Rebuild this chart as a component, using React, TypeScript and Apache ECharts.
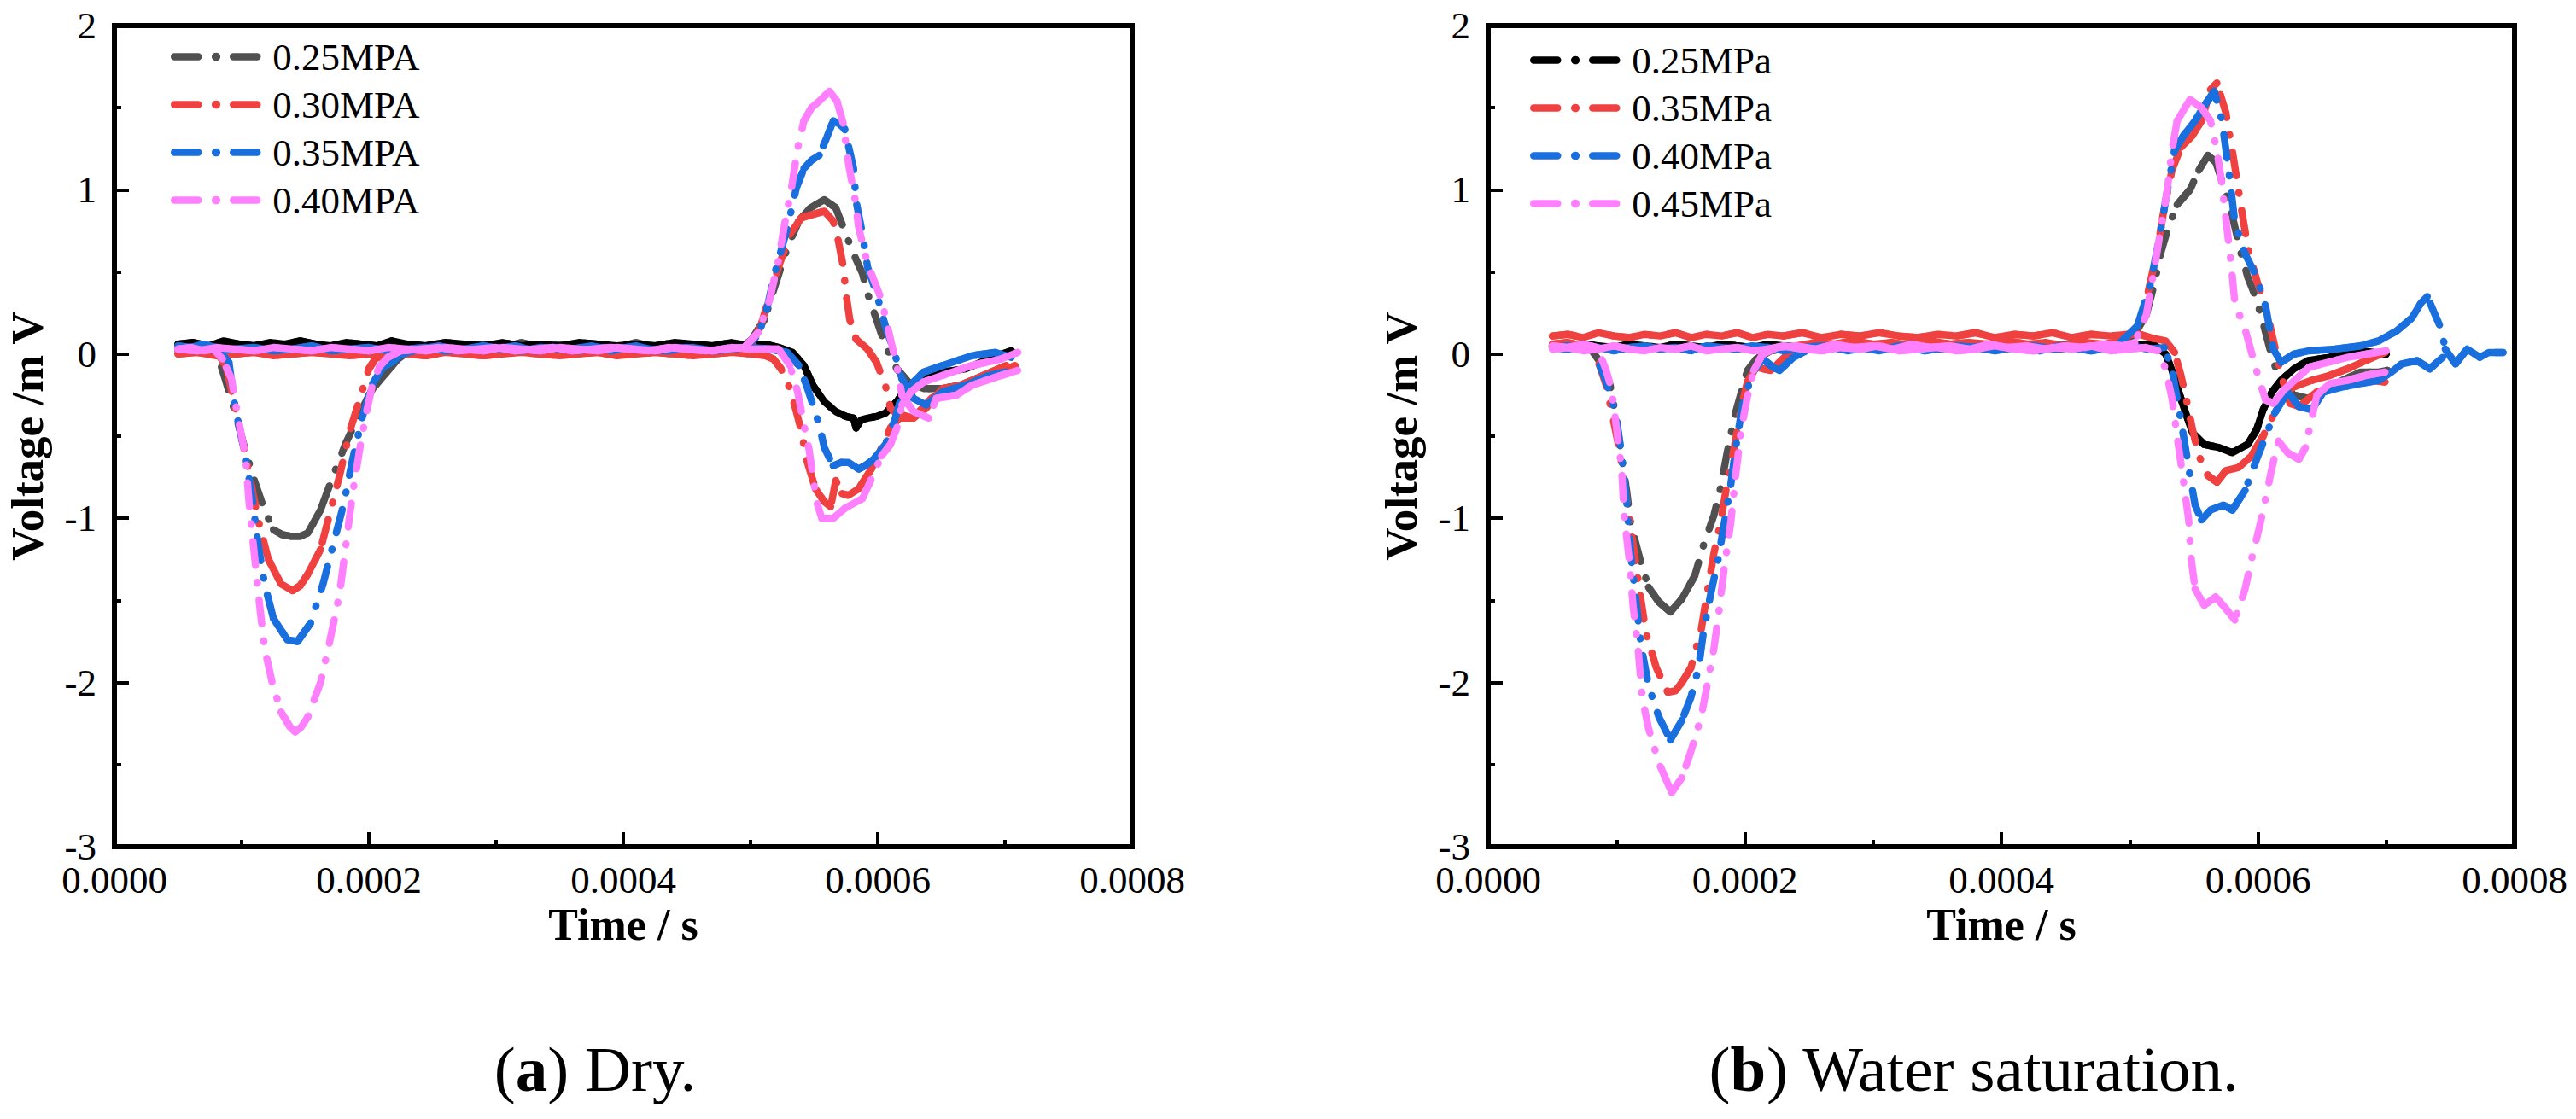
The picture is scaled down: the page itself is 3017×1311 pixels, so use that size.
import React from "react";
import * as echarts from "echarts";

// time in µs, voltage in mV
type Pt = [number, number];

const dryLabels = ["0.25MPA", "0.30MPA", "0.35MPA", "0.40MPA"];
const wetLabels = ["0.25MPa", "0.35MPa", "0.40MPa", "0.45MPa"];
const firstColors = ["#505050", "#F04141", "#1A6FDF", "#FF80FF"];
const secondColors = ["#000000", "#F04141", "#1A6FDF", "#FF80FF"];
const xTicks = [0, 0.0002, 0.0004, 0.0006, 0.0008];
const yTicks = [-3, -2, -1, 0, 1, 2];

// (a) Dry. — first channel: dip then positive lobe
const dry1_025: Pt[] = [[50,0.04],[58,0.06],[66,0.03],[74,0.05],[80,0.02],[87,-0.15],[95,-0.36],[103,-0.59],[110,-0.77],[118,-0.95],[125,-1.07],[132,-1.1],[139,-1.11],[146,-1.11],[152,-1.09],[162,-0.95],[172,-0.74],[182,-0.54],[193,-0.36],[203,-0.21],[213,-0.12],[223,-0.03],[232,0.02],[245,0.05],[260,0.07],[275,0.03],[290,0.06],[305,0.04],[320,0.07],[335,0.04],[350,0.06],[365,0.03],[380,0.06],[395,0.04],[410,0.07],[425,0.04],[440,0.06],[455,0.03],[470,0.05],[485,0.04],[495,0.05],[501,0.09],[511,0.21],[519,0.41],[529,0.65],[538,0.81],[547,0.89],[558,0.94],[567,0.89],[574,0.75],[581,0.61],[588,0.49],[592,0.37],[599,0.21],[606,0.05],[615,-0.09],[624,-0.17],[636,-0.21],[651,-0.21],[665,-0.19],[683,-0.13],[697,-0.11],[708,-0.08]];
const dry1_030: Pt[] = [[50,0.02],[60,0.03],[70,0.01],[80,0.02],[88,-0.08],[95,-0.33],[105,-0.69],[113,-1.01],[121,-1.25],[131,-1.4],[140,-1.44],[146,-1.41],[152,-1.34],[162,-1.19],[169,-0.98],[177,-0.74],[185,-0.47],[193,-0.27],[200,-0.09],[205,-0.03],[215,0.01],[230,0.02],[250,0.01],[270,0.03],[290,0.02],[310,0.01],[330,0.03],[350,0.02],[370,0.01],[390,0.03],[410,0.02],[430,0.01],[450,0.03],[470,0.02],[490,0.03],[500,0.05],[508,0.17],[515,0.35],[522,0.53],[531,0.73],[540,0.83],[549,0.85],[558,0.87],[565,0.81],[569,0.69],[573,0.53],[575,0.37],[578,0.21],[583,0.09],[592,0.03],[599,-0.05],[606,-0.19],[610,-0.33],[619,-0.39],[628,-0.39],[642,-0.27],[656,-0.21],[674,-0.17],[687,-0.13],[701,-0.09],[708,-0.07]];
const dry1_035: Pt[] = [[50,0.05],[60,0.04],[70,0.06],[80,0.04],[90,-0.05],[95,-0.33],[103,-0.62],[108,-0.86],[113,-1.16],[118,-1.4],[125,-1.61],[136,-1.74],[144,-1.75],[154,-1.64],[164,-1.4],[172,-1.16],[180,-0.92],[187,-0.65],[195,-0.38],[203,-0.18],[211,-0.08],[218,-0.05],[226,0],[240,0.03],[255,0.05],[270,0.02],[285,0.04],[300,0.03],[315,0.05],[330,0.02],[345,0.04],[360,0.03],[375,0.05],[390,0.02],[405,0.04],[420,0.03],[435,0.02],[450,0.04],[465,0.02],[480,0.03],[495,0.04],[504,0.1],[511,0.21],[519,0.49],[529,0.77],[536,1.01],[542,1.13],[548,1.18],[554,1.21],[560,1.32],[565,1.42],[570,1.4],[574,1.37],[581,1.13],[583,0.93],[588,0.73],[592,0.53],[599,0.37],[606,0.17],[613,0.01],[619,-0.15],[628,-0.27],[638,-0.31],[651,-0.23],[669,-0.19],[687,-0.13],[701,-0.11]];
const dry1_040: Pt[] = [[50,0.03],[60,0.04],[70,0.02],[78,0.03],[85,-0.03],[92,-0.15],[97,-0.38],[103,-0.62],[106,-0.92],[110,-1.22],[114,-1.52],[118,-1.79],[124,-2],[131,-2.18],[138,-2.27],[142,-2.3],[147,-2.27],[152,-2.21],[162,-2],[169,-1.76],[177,-1.46],[182,-1.16],[187,-0.86],[193,-0.57],[198,-0.36],[203,-0.18],[208,-0.08],[215,-0.02],[225,0.02],[240,0.03],[255,0.04],[270,0.02],[285,0.03],[300,0.04],[315,0.02],[330,0.03],[345,0.04],[360,0.02],[375,0.03],[390,0.04],[405,0.03],[420,0.02],[435,0.04],[450,0.03],[465,0.02],[480,0.03],[495,0.04],[506,0.13],[515,0.33],[522,0.57],[527,0.8],[532,1],[537,1.25],[542,1.42],[548,1.5],[554,1.54],[562,1.6],[568,1.54],[573,1.4],[577,1.16],[582,0.95],[585,0.77],[592,0.55],[603,0.33],[610,0.09],[615,-0.07],[619,-0.25],[628,-0.35],[640,-0.39],[646,-0.27],[662,-0.25],[674,-0.19],[697,-0.13],[710,-0.1]];

// (a) Dry. — second channel: flat then negative lobe
const dry2_025: Pt[] = [[50,0.06],[62,0.07],[74,0.05],[86,0.08],[98,0.06],[110,0.05],[122,0.07],[134,0.06],[146,0.08],[158,0.06],[170,0.05],[182,0.07],[194,0.06],[206,0.05],[218,0.08],[230,0.06],[245,0.05],[260,0.07],[275,0.06],[290,0.05],[305,0.07],[320,0.05],[335,0.06],[350,0.05],[365,0.07],[380,0.06],[395,0.05],[410,0.06],[425,0.05],[440,0.07],[455,0.06],[470,0.05],[485,0.07],[500,0.05],[512,0.06],[522,0.04],[533,0.01],[542,-0.07],[549,-0.19],[558,-0.29],[567,-0.35],[575,-0.38],[581,-0.39],[583,-0.45],[587,-0.4],[592,-0.39],[599,-0.38],[606,-0.36],[615,-0.29],[624,-0.19],[636,-0.15],[651,-0.11],[669,-0.09],[687,-0.03],[705,0.02]];
const dry2_030: Pt[] = [[50,0],[65,0.01],[80,-0.01],[95,0],[110,0.01],[125,-0.01],[140,0],[155,0.01],[170,0],[185,-0.01],[200,0],[215,0.01],[230,0],[245,-0.01],[260,0.01],[275,0],[290,-0.01],[305,0],[320,0.01],[335,0],[350,-0.01],[365,0],[380,0.01],[395,-0.01],[410,0],[425,0.01],[440,0],[455,-0.01],[470,0],[485,0.01],[500,0],[512,-0.01],[518,-0.03],[524,-0.09],[531,-0.21],[536,-0.35],[540,-0.47],[544,-0.64],[551,-0.82],[558,-0.9],[563,-0.93],[567,-0.77],[572,-0.85],[577,-0.86],[585,-0.82],[595,-0.7],[603,-0.57],[610,-0.45],[619,-0.37],[628,-0.39],[638,-0.33],[651,-0.21],[665,-0.19],[683,-0.13],[701,-0.07]];
const dry2_035: Pt[] = [[50,0.03],[65,0.04],[80,0.02],[95,0.03],[110,0.04],[125,0.02],[140,0.03],[155,0.05],[170,0.02],[185,0.03],[200,0.04],[215,0.02],[230,0.03],[245,0.04],[260,0.02],[275,0.03],[290,0.05],[305,0.03],[320,0.02],[335,0.04],[350,0.03],[365,0.02],[380,0.04],[395,0.03],[410,0.05],[425,0.02],[440,0.03],[455,0.04],[470,0.02],[485,0.03],[500,0.04],[515,0.03],[529,0.01],[538,-0.07],[544,-0.19],[549,-0.31],[554,-0.43],[558,-0.57],[565,-0.68],[571,-0.66],[577,-0.66],[585,-0.7],[590,-0.68],[597,-0.64],[606,-0.55],[613,-0.41],[619,-0.25],[628,-0.17],[636,-0.11],[651,-0.07],[674,-0.01],[692,0.01],[705,-0.02]];
const dry2_040: Pt[] = [[50,0.03],[65,0.02],[80,0.04],[95,0.03],[110,0.02],[125,0.04],[140,0.03],[155,0.02],[170,0.04],[185,0.03],[200,0.02],[215,0.04],[230,0.03],[245,0.02],[260,0.04],[275,0.03],[290,0.02],[305,0.04],[320,0.03],[335,0.02],[350,0.04],[365,0.03],[380,0.02],[395,0.04],[410,0.03],[425,0.02],[440,0.04],[455,0.03],[470,0.02],[485,0.04],[500,0.03],[515,0.03],[522,0.03],[531,-0.07],[537,-0.23],[542,-0.43],[546,-0.58],[549,-0.74],[552,-0.9],[556,-1],[565,-1],[574,-0.94],[588,-0.88],[595,-0.76],[603,-0.62],[610,-0.55],[615,-0.45],[619,-0.31],[626,-0.23],[636,-0.17],[651,-0.13],[674,-0.07],[697,-0.03],[710,0.01]];

// (b) Water saturation. — first channel
const wet1_025: Pt[] = [[50,0.05],[60,0.06],[70,0.04],[80,0.03],[90,-0.08],[95,-0.19],[100,-0.4],[104,-0.63],[108,-0.84],[111,-1.03],[118,-1.24],[125,-1.42],[133,-1.51],[142,-1.57],[151,-1.49],[161,-1.35],[168,-1.16],[176,-0.98],[181,-0.82],[186,-0.61],[192,-0.38],[197,-0.24],[202,-0.1],[209,-0.03],[220,0.02],[235,0.04],[250,0.05],[265,0.03],[280,0.05],[295,0.04],[310,0.06],[325,0.04],[340,0.05],[355,0.03],[370,0.05],[385,0.04],[400,0.06],[415,0.04],[430,0.05],[445,0.03],[460,0.05],[475,0.04],[490,0.06],[504,0.12],[513,0.24],[519,0.42],[524,0.61],[530,0.77],[537,0.91],[547,1],[554,1.12],[561,1.21],[567,1.17],[573,1.03],[580,0.84],[587,0.61],[592,0.47],[599,0.33],[604,0.19],[611,-0.02],[618,-0.18],[628,-0.25],[639,-0.27],[651,-0.23],[666,-0.16],[680,-0.11],[694,-0.11],[701,-0.1]];
const wet1_035: Pt[] = [[50,0.06],[62,0.07],[74,0.05],[82,0.04],[92,-0.19],[97,-0.38],[103,-0.61],[108,-0.89],[113,-1.16],[118,-1.44],[123,-1.7],[131,-1.91],[140,-2.06],[146,-2.05],[151,-2],[158,-1.91],[166,-1.68],[171,-1.44],[176,-1.21],[181,-1.03],[186,-0.8],[192,-0.56],[197,-0.33],[202,-0.17],[209,-0.08],[220,-0.1],[227,-0.05],[240,0.05],[255,0.07],[270,0.06],[285,0.08],[300,0.06],[315,0.07],[330,0.05],[345,0.08],[360,0.06],[375,0.07],[390,0.06],[405,0.08],[420,0.06],[435,0.07],[450,0.05],[465,0.07],[480,0.06],[495,0.08],[506,0.17],[513,0.33],[521,0.61],[527,0.89],[533,1.12],[540,1.26],[549,1.33],[556,1.42],[563,1.61],[568,1.65],[575,1.47],[580,1.24],[587,0.89],[592,0.65],[599,0.45],[606,0.29],[613,0.05],[618,-0.13],[625,-0.3],[632,-0.32],[646,-0.23],[661,-0.2],[675,-0.18],[689,-0.16],[699,-0.17]];
const wet1_040: Pt[] = [[50,0.04],[62,0.05],[74,0.03],[82,0.03],[92,-0.17],[99,-0.35],[104,-0.61],[108,-0.91],[111,-1.21],[115,-1.49],[119,-1.77],[125,-2.02],[133,-2.21],[142,-2.35],[151,-2.23],[158,-2.09],[164,-1.91],[168,-1.68],[174,-1.44],[179,-1.26],[184,-1.03],[189,-0.8],[194,-0.51],[199,-0.28],[207,-0.1],[214,-0.03],[222,-0.08],[227,-0.1],[238,-0.02],[250,0.03],[265,0.05],[280,0.02],[295,0.04],[310,0.03],[325,0.05],[340,0.02],[355,0.04],[370,0.03],[385,0.05],[400,0.03],[415,0.04],[430,0.02],[445,0.05],[460,0.03],[475,0.04],[490,0.05],[506,0.17],[516,0.42],[523,0.7],[529,0.98],[535,1.24],[542,1.33],[551,1.42],[558,1.51],[566,1.6],[572,1.42],[578,1.07],[582,0.8],[590,0.61],[599,0.47],[606,0.29],[612,0.03],[618,-0.05],[628,0],[640,0.02],[660,0.03],[680,0.05],[694,0.08],[708,0.14],[720,0.22],[727,0.31],[732,0.35],[738,0.24],[743,0.15],[746,0.03],[754,-0.06],[763,0.03],[773,-0.02],[780,0.01],[791,0.01]];
const wet1_045: Pt[] = [[50,0.05],[62,0.04],[74,0.06],[85,0.04],[92,-0.1],[96,-0.21],[100,-0.45],[104,-0.7],[106,-0.98],[110,-1.26],[113,-1.54],[117,-1.81],[120,-2.09],[125,-2.28],[133,-2.49],[143,-2.67],[151,-2.58],[158,-2.42],[166,-2.21],[171,-2],[176,-1.79],[180,-1.56],[184,-1.3],[189,-1.03],[193,-0.73],[197,-0.47],[202,-0.26],[207,-0.1],[214,0],[225,0.04],[240,0.05],[255,0.03],[270,0.06],[285,0.04],[300,0.05],[315,0.03],[330,0.06],[345,0.04],[360,0.05],[375,0.03],[390,0.06],[405,0.04],[420,0.05],[435,0.03],[450,0.05],[465,0.04],[480,0.06],[495,0.05],[504,0.07],[513,0.24],[519,0.51],[524,0.75],[529,0.98],[533,1.24],[537,1.42],[547,1.55],[556,1.5],[563,1.42],[568,1.24],[572,1.03],[575,0.82],[579,0.56],[582,0.31],[590,0.15],[596,-0.02],[601,-0.16],[606,-0.28],[612,-0.3],[620,-0.22],[630,-0.15],[640,-0.08],[655,-0.05],[670,-0.02],[685,0],[700,0.02]];

// (b) Water saturation. — second channel
const wet2_025: Pt[] = [[50,0.05],[62,0.04],[74,0.06],[86,0.05],[98,0.04],[110,0.06],[122,0.05],[134,0.04],[146,0.06],[158,0.05],[170,0.04],[182,0.06],[194,0.05],[206,0.04],[218,0.06],[230,0.05],[245,0.04],[260,0.06],[275,0.05],[290,0.04],[305,0.06],[320,0.05],[335,0.04],[350,0.06],[365,0.05],[380,0.04],[395,0.06],[410,0.05],[425,0.04],[440,0.06],[455,0.05],[470,0.04],[485,0.06],[500,0.05],[512,0.06],[520,0.05],[528,0],[533,-0.1],[537,-0.2],[542,-0.32],[549,-0.48],[558,-0.55],[570,-0.57],[580,-0.6],[592,-0.55],[599,-0.46],[604,-0.34],[611,-0.23],[618,-0.16],[628,-0.09],[639,-0.04],[656,-0.02],[670,0.01],[680,0.02],[700,0]];
const wet2_035: Pt[] = [[50,0.11],[62,0.12],[74,0.1],[86,0.13],[98,0.11],[110,0.1],[122,0.12],[134,0.11],[146,0.13],[158,0.1],[170,0.12],[182,0.11],[194,0.13],[206,0.1],[218,0.12],[230,0.11],[245,0.13],[260,0.1],[275,0.12],[290,0.11],[305,0.13],[320,0.11],[335,0.1],[350,0.12],[365,0.11],[380,0.13],[395,0.1],[410,0.12],[425,0.11],[440,0.13],[455,0.1],[470,0.12],[485,0.11],[498,0.12],[508,0.12],[516,0.1],[528,0.08],[535,0.01],[540,-0.13],[544,-0.27],[549,-0.46],[554,-0.62],[561,-0.74],[568,-0.78],[575,-0.71],[585,-0.69],[595,-0.62],[604,-0.5],[611,-0.39],[618,-0.25],[628,-0.2],[642,-0.16],[656,-0.13],[670,-0.09],[684,-0.04],[699,0.01]];
const wet2_040: Pt[] = [[50,0.04],[62,0.03],[74,0.05],[86,0.04],[98,0.02],[110,0.04],[122,0.05],[134,0.03],[146,0.04],[158,0.02],[170,0.05],[182,0.04],[194,0.03],[206,0.05],[218,0.04],[230,0.02],[245,0.04],[260,0.05],[275,0.03],[290,0.04],[305,0.02],[320,0.05],[335,0.04],[350,0.03],[365,0.05],[380,0.04],[395,0.02],[410,0.04],[425,0.05],[440,0.03],[455,0.04],[470,0.02],[485,0.04],[500,0.05],[515,0.03],[527,0.04],[533,-0.09],[537,-0.27],[542,-0.5],[547,-0.74],[551,-0.92],[556,-1.01],[563,-0.95],[573,-0.92],[580,-0.95],[590,-0.83],[599,-0.64],[606,-0.5],[613,-0.36],[623,-0.23],[632,-0.32],[642,-0.34],[651,-0.23],[666,-0.2],[680,-0.18],[694,-0.16],[704,-0.11],[712,-0.06],[724,-0.04],[734,-0.09],[744,-0.02]];
const wet2_045: Pt[] = [[50,0.03],[62,0.04],[74,0.02],[86,0.03],[98,0.05],[110,0.03],[122,0.02],[134,0.04],[146,0.03],[158,0.05],[170,0.02],[182,0.03],[194,0.04],[206,0.02],[218,0.03],[230,0.05],[245,0.03],[260,0.02],[275,0.04],[290,0.03],[305,0.05],[320,0.02],[335,0.03],[350,0.04],[365,0.02],[380,0.03],[395,0.05],[410,0.03],[425,0.02],[440,0.04],[455,0.03],[470,0.05],[485,0.02],[500,0.03],[512,0.04],[522,0.02],[528,-0.09],[533,-0.27],[537,-0.5],[542,-0.78],[546,-1.01],[548,-1.25],[551,-1.43],[558,-1.53],[567,-1.48],[575,-1.55],[582,-1.62],[590,-1.43],[595,-1.25],[601,-1.06],[606,-0.88],[611,-0.69],[616,-0.53],[623,-0.6],[632,-0.64],[637,-0.57],[642,-0.39],[646,-0.25],[656,-0.18],[670,-0.16],[684,-0.13],[699,-0.11]];

const dryFirst = [dry1_025, dry1_030, dry1_035, dry1_040];
const drySecond = [dry2_025, dry2_030, dry2_035, dry2_040];
const wetFirst = [wet1_025, wet1_035, wet1_040, wet1_045];
const wetSecond = [wet2_025, wet2_035, wet2_040, wet2_045];

const SERIF = "'Liberation Serif', 'Times New Roman', serif";
const DASH_DOT = [28, 20, 1, 20];
const LINE_W = 8.5;
// screen slope (px/px) above which the trace shows its dash-dot pattern
const STEEP = 2;

function flatRuns(pts: Pt[], limit: number) {
  const out: any[] = [];
  let open = false;
  for (let i = 0; i < pts.length - 1; i++) {
    const [t0, v0] = pts[i];
    const [t1, v1] = pts[i + 1];
    const slope = (Math.abs(v1 - v0) * 192.4) / (Math.abs(t1 - t0) * 1.49);
    if (slope <= limit) {
      if (!open) out.push([t0 * 1e-6, v0]);
      out.push([t1 * 1e-6, v1]);
      open = true;
    } else if (open) {
      out.push([((t0 + t1) / 2) * 1e-6, "-"]);
      open = false;
    }
  }
  return out;
}

function trace(name: string, pts: Pt[], color: string, idx: number, limit: number) {
  const common = {
    type: "line",
    xAxisIndex: idx,
    yAxisIndex: idx,
    symbol: "none",
    silent: true,
    emphasis: { disabled: true },
    itemStyle: { color },
  };
  return [
    {
      ...common,
      name,
      data: pts.map(([t, v]) => [t * 1e-6, v]),
      lineStyle: { color, width: LINE_W, type: DASH_DOT, cap: "round", join: "round" },
    },
    {
      ...common,
      name: name + " flat",
      data: flatRuns(pts, limit),
      lineStyle: { color, width: LINE_W, type: "solid", cap: "round", join: "round" },
    },
  ];
}

function axisPair(idx: number) {
  const tickLine = { color: "#000", width: 4 };
  const x = {
    type: "value",
    gridIndex: idx,
    min: xTicks[0],
    max: xTicks[xTicks.length - 1],
    interval: xTicks[1] - xTicks[0],
    name: "Time / s",
    nameLocation: "middle",
    nameGap: 60,
    nameTextStyle: { fontFamily: SERIF, fontWeight: "bold", fontSize: 52, color: "#000" },
    axisLine: { show: true, onZero: false, lineStyle: { color: "#000", width: 6 } },
    axisTick: { show: true, inside: true, length: 17, lineStyle: tickLine },
    minorTick: { show: true, splitNumber: 2, length: 8, lineStyle: tickLine },
    splitLine: { show: false },
    axisLabel: {
      fontFamily: SERIF,
      fontSize: 45,
      color: "#000",
      margin: 16,
      formatter: (v: number) => v.toFixed(4),
    },
  };
  const y = {
    type: "value",
    gridIndex: idx,
    min: yTicks[0],
    max: yTicks[yTicks.length - 1],
    interval: 1,
    name: "Voltage /m V",
    nameLocation: "middle",
    nameGap: 76,
    nameTextStyle: { fontFamily: SERIF, fontWeight: "bold", fontSize: 53, color: "#000" },
    axisLine: { show: true, onZero: false, lineStyle: { color: "#000", width: 6 } },
    axisTick: { show: true, inside: true, length: 17, lineStyle: tickLine },
    minorTick: { show: true, splitNumber: 2, length: 8, lineStyle: tickLine },
    splitLine: { show: false },
    axisLabel: { fontFamily: SERIF, fontSize: 45, lineHeight: 32, color: "#000", margin: 21 },
  };
  return { x, y };
}

function legendAt(names: string[], left: number, top: number) {
  return {
    data: names,
    orient: "vertical",
    left,
    top,
    padding: 0,
    itemWidth: 98,
    itemHeight: 12,
    itemGap: 11,
    selectedMode: false,
    lineStyle: { type: DASH_DOT, width: LINE_W, cap: "round" },
    itemStyle: { borderWidth: 0 },
    textStyle: { fontFamily: SERIF, fontSize: 45, lineHeight: 45, color: "#000", padding: [0, 0, 0, 12] },
  };
}

function caption(label: string, rest: string, cx: number) {
  return {
    type: "text",
    x: cx,
    y: 1252,
    silent: true,
    style: {
      text: `{n|(}{b|${label}}{n|) ${rest}}`,
      align: "center",
      verticalAlign: "middle",
      rich: {
        n: { fontFamily: SERIF, fontSize: 75, fill: "#000" },
        b: { fontFamily: SERIF, fontSize: 75, fontWeight: "bold", fill: "#000" },
      },
    },
  };
}

export default function App() {
  const ref = React.useRef<HTMLDivElement>(null);

  React.useEffect(() => {
    if (!ref.current) return;
    const chart = echarts.init(ref.current, undefined, { renderer: "svg" });

    const a = axisPair(0);
    const b = axisPair(1);
    const series: any[] = [];
    dryLabels.forEach((label, i) => {
      series.push(...trace(label, dryFirst[i], firstColors[i], 0, STEEP));
      series.push(...trace(label + " ch2", drySecond[i], secondColors[i], 0, i === 0 ? Infinity : STEEP));
    });
    wetLabels.forEach((label, i) => {
      series.push(...trace(label + " ch1", wetFirst[i], firstColors[i], 1, STEEP));
      series.push(...trace(label, wetSecond[i], secondColors[i], 1, i === 0 ? Infinity : STEEP));
    });

    const frame = { show: true, borderColor: "#000", borderWidth: 6, backgroundColor: "transparent" };
    chart.setOption({
      animation: false,
      backgroundColor: "#fff",
      grid: [
        { ...frame, left: 134, top: 30, width: 1192, height: 962 },
        { ...frame, left: 1743, top: 30, width: 1202, height: 962 },
      ],
      xAxis: [a.x, b.x],
      yAxis: [a.y, b.y],
      legend: [legendAt(dryLabels, 200, 44), legendAt(wetLabels, 1792, 48)],
      series,
      graphic: [caption("a", "Dry.", 697), caption("b", "Water saturation.", 2312)],
    });

    const onResize = () => chart.resize();
    window.addEventListener("resize", onResize);
    return () => {
      window.removeEventListener("resize", onResize);
      chart.dispose();
    };
  }, []);

  return (
    <div
      ref={ref}
      style={{ position: "fixed", left: 0, top: 0, width: "100vw", height: "100vh", background: "#fff" }}
    />
  );
}
